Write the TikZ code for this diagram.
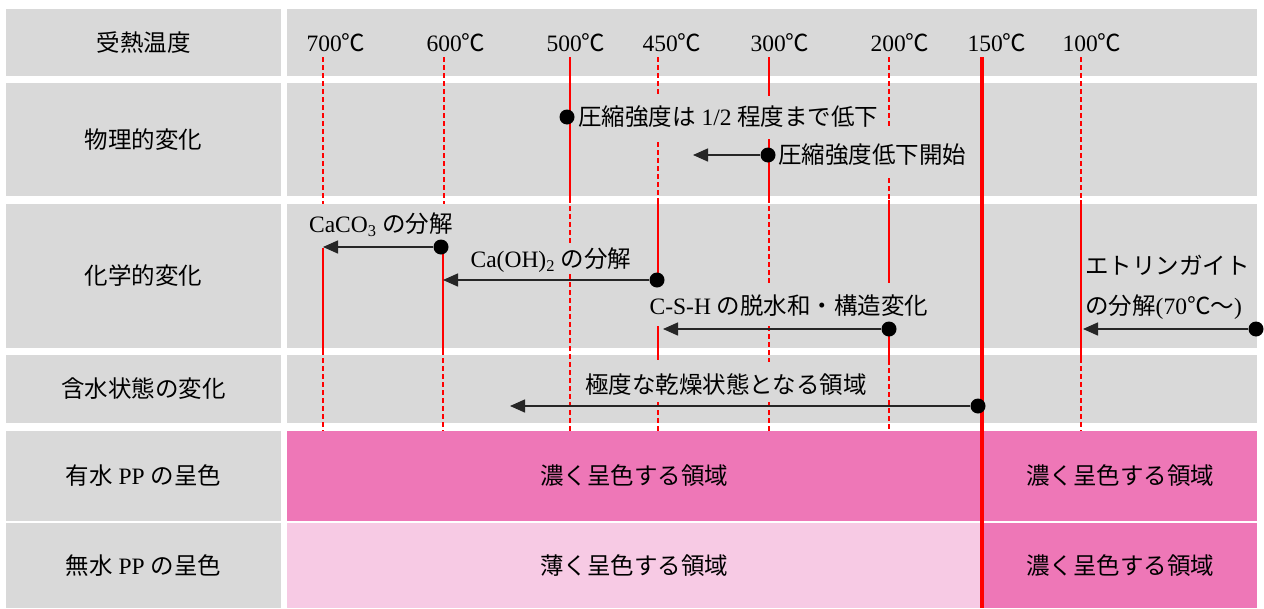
\documentclass[tikz,border=0pt]{standalone}
\usepackage{fontspec}
\setmainfont{Liberation Serif}
\newfontfamily\cjk{Noto Sans CJK JP}
\newcommand{\jpn}[1]{{\cjk #1}}
\usetikzlibrary{arrows.meta}
\definecolor{cellgray}{HTML}{D9D9D9}
\definecolor{pinkdark}{HTML}{EE77B7}
\definecolor{pinklight}{HTML}{F7CAE4}
\tikzset{
  txt/.style={font=\fontsize{23.5}{28}\selectfont, inner sep=0pt, text=black},
  guide/.style={draw=red, line width=1.4pt},
  guidedash/.style={draw=red, line width=1.4pt, dash pattern=on 5pt off 3pt},
  guidethick/.style={draw=red, line width=4pt},
  arr/.style={line width=1.5pt, draw=black!85, -{Triangle[length=15pt,width=13pt]}},
  dotn/.style={circle, fill=black, inner sep=0pt, minimum size=15pt},
}
\begin{document}
\begin{tikzpicture}[x=1pt,y=-1pt]
\useasboundingbox (0,0) rectangle (1264,608);
% ---- cells ----
\fill[cellgray] (6,9) rectangle (281,76);
\fill[cellgray] (287,9) rectangle (1257,76);
\fill[cellgray] (6,83) rectangle (281,196);
\fill[cellgray] (287,83) rectangle (1257,196);
\fill[cellgray] (6,204) rectangle (281,348);
\fill[cellgray] (287,204) rectangle (1257,348);
\fill[cellgray] (6,355) rectangle (281,423);
\fill[cellgray] (287,355) rectangle (1257,423);
\fill[cellgray] (6,431) rectangle (281,521);
\fill[pinkdark] (287,431) rectangle (1257,521);
\fill[cellgray] (6,523) rectangle (281,608);
\fill[pinklight] (287,523) rectangle (982,608);
\fill[pinkdark] (982,523) rectangle (1257,608);
% ---- guide lines ----
% 700
\draw[guidedash] (323,57) -- (323,204);
\draw[guide] (323,248) -- (323,350);
\draw[guidedash] (323,350) -- (323,431);
% 600
\draw[guidedash] (444,57) -- (444,204);
\draw[guide] (443,248) -- (443,350);
\draw[guidedash] (443,350) -- (443,431);
% 500
\draw[guide] (570,57) -- (570,198);
\draw[guidedash] (570,198) -- (570,243);
\draw[guidedash] (570,274) -- (570,431);
% 450
\draw[guidedash] (658,57) -- (658,96);
\draw[guidedash] (658,142) -- (658,198);
\draw[guide] (658,198) -- (658,283);
\draw[guide] (658,326) -- (658,360);
\draw[guidedash] (658,402) -- (658,431);
% 300
\draw[guide] (769,57) -- (769,96);
\draw[guide] (769,139) -- (769,198);
\draw[guidedash] (769,198) -- (769,283);
\draw[guidedash] (769,326) -- (769,362);
\draw[guidedash] (769,402) -- (769,431);
% 200
\draw[guidedash] (889,57) -- (889,128);
\draw[guidedash] (889,178) -- (889,200);
\draw[guide] (889,200) -- (889,283);
\draw[guide] (889,322) -- (889,360);
\draw[guidedash] (889,360) -- (889,431);
% 100
\draw[guidedash] (1081,57) -- (1081,200);
\draw[guide] (1081,200) -- (1081,358);
\draw[guidedash] (1081,358) -- (1081,431);
% ---- row labels ----
\node[txt] (r1) at (143.5,43) {\jpn{受熱温度}};
\node[txt] (r2) at (143.5,140) {\jpn{物理的変化}};
\node[txt] (r3) at (143.5,276) {\jpn{化学的変化}};
\node[txt] (r4) at (143.5,389) {\jpn{含水状態の変化}};
\node[txt] (r5) at (143.5,476) {\jpn{有水} PP \jpn{の呈色}};
\node[txt] (r6) at (143.5,566) {\jpn{無水} PP \jpn{の呈色}};
% ---- temperatures ----
\node[txt] (t700) at (336,43) {700\jpn{℃}};
\node[txt] (t600) at (456,43) {600\jpn{℃}};
\node[txt] (t500) at (576,43) {500\jpn{℃}};
\node[txt] (t450) at (672,43) {450\jpn{℃}};
\node[txt] (t300) at (780,43) {300\jpn{℃}};
\node[txt] (t200) at (900,43) {200\jpn{℃}};
\node[txt] (t150) at (997,43) {150\jpn{℃}};
\node[txt] (t100) at (1092,43) {100\jpn{℃}};
% ---- coordinates for arrow ends ----
\coordinate (e2) at (693,155);
\coordinate (e3) at (323,247);
\coordinate (e4) at (443,280);
\coordinate (e5) at (663,329);
\coordinate (e6) at (1083,329);
\coordinate (e7) at (510,406);
% ---- dots ----
\node[dotn] (d1) at (567,117) {};
\node[dotn] (d2) at (768,155) {};
\node[dotn] (d3) at (441,247) {};
\node[dotn] (d4) at (657,280) {};
\node[dotn] (d5) at (889,329) {};
\node[dotn] (d6) at (1256,329) {};
% ---- thick 150 line ----
\draw[guidethick] (982,57) -- (982,608);
\node[dotn] (d7) at (978,406) {};
% ---- arrows ----
\draw[arr] (d2) -- (e2);
\draw[arr] (d3) -- (e3);
\draw[arr] (d4) -- (e4);
\draw[arr] (d5) -- (e5);
\draw[arr] (d6) -- (e6);
\draw[arr] (d7) -- (e7);
% ---- labels ----
\node[txt, anchor=west] (l1) at (578,117) {\jpn{圧縮強度は} 1/2 \jpn{程度まで低下}};
\node[txt, anchor=west] (l2) at (778,155) {\jpn{圧縮強度低下開始}};
\node[txt] (l3) at (381,225) {CaCO\textsubscript{3} \jpn{の分解}};
\node[txt] (l4) at (551,260) {Ca(OH)\textsubscript{2} \jpn{の分解}};
\node[txt] (l5) at (789,306) {C-S-H \jpn{の脱水和・構造変化}};
\node[txt, anchor=west] (l6a) at (1085,265) {\jpn{エトリンガイト}};
\node[txt, anchor=west] (l6b) at (1085,307) {\jpn{の分解}(70\jpn{℃～})};
\node[txt] (l7) at (726,385) {\jpn{極度な乾燥状態となる領域}};
\node[txt] (p1) at (634,476) {\jpn{濃く呈色する領域}};
\node[txt] (p2) at (1120,476) {\jpn{濃く呈色する領域}};
\node[txt] (p3) at (634,566) {\jpn{薄く呈色する領域}};
\node[txt] (p4) at (1120,566) {\jpn{濃く呈色する領域}};
\end{tikzpicture}
\end{document}
